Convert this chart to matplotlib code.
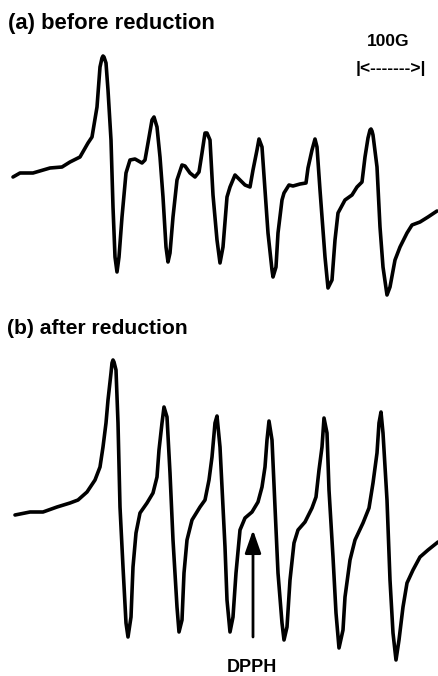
import matplotlib
matplotlib.use("Agg")
import matplotlib.pyplot as plt
import numpy as np

# ---- data (field in arbitrary units, derivative signal in arbitrary units) ----
field_a = [13, 20, 33, 50, 62, 70, 80, 88, 92, 97, 100, 102, 103, 104, 106, 108, 111, 113, 115, 117, 119, 122,
           126, 130, 135, 142, 145, 148, 152, 154, 157, 160, 163, 166, 168, 170, 173, 177, 182, 185, 190, 195,
           199, 202, 205, 207, 210, 213, 217, 220, 223, 227, 230, 235, 240, 245, 250, 253, 257, 259, 262, 265,
           268, 272, 273, 276, 278, 282, 284, 289, 293, 300, 306, 308, 312, 315, 317, 320, 325, 328, 332, 335,
           338, 345, 352, 357, 362, 365, 368, 370, 371, 372, 373, 377, 380, 383, 387, 390, 395, 400, 407, 412, 420, 428, 437]
signal_a = [0, 4, 4, 9, 10, 15, 20, 34, 40, 70, 110, 119, 121, 120, 114, 87, 37, -30, -80, -95, -80, -40,
            4, 17, 18, 14, 17, 34, 57, 60, 50, 20, -20, -70, -85, -76, -40, -3, 12, 11, 4, 0,
            5, 24, 44, 44, 37, -18, -63, -86, -70, -20, -10, 2, -3, -8, -10, 7, 27, 38, 30, -13,
            -56, -93, -100, -90, -56, -23, -16, -8, -9, -7, -6, 9, 27, 38, 30, -13, -80, -111, -103, -63,
            -36, -23, -18, -10, -5, 20, 39, 47, 48, 46, 42, 10, -50, -90, -118, -110, -83, -70, -56, -48, -45, -40, -34]

field_b = [15, 30, 43, 57, 70, 78, 87, 95, 100, 103, 106, 108, 111, 112, 113, 114, 116, 118, 120, 123, 126, 128,
           131, 133, 136, 140, 147, 153, 157, 159, 162, 164, 167, 170, 173, 177, 179, 182, 184, 187, 192, 200,
           205, 209, 212, 215, 217, 220, 223, 225, 227, 230, 233, 236, 240, 245, 252, 258, 262, 265, 267, 269,
           272, 275, 278, 282, 284, 287, 290, 294, 298, 305, 312, 316, 319, 322, 324, 327, 329, 333, 336, 339,
           343, 345, 350, 355, 363, 369, 373, 377, 379, 381, 383, 387, 390, 393, 396, 399, 403, 407, 413, 420, 428, 438]
signal_b = [0, 3, 3, 8, 12, 15, 23, 35, 48, 68, 92, 115, 142, 152, 155, 153, 145, 92, 8, -52, -108, -122,
            -102, -52, -18, 2, 12, 22, 38, 65, 92, 108, 98, 42, -25, -92, -117, -105, -58, -25, -5, 8,
            15, 35, 58, 92, 99, 68, 8, -32, -85, -117, -102, -58, -15, -3, 3, 13, 28, 48, 75, 94,
            75, 8, -58, -108, -125, -112, -65, -28, -15, -7, 7, 18, 45, 68, 97, 82, 25, -42, -98, -133,
            -115, -82, -45, -25, -8, 7, 32, 62, 92, 103, 82, 15, -65, -118, -145, -125, -92, -68, -55, -42, -35, -27]

title_a = "(a) before reduction"
title_b = "(b) after reduction"
scale_label = "100G"
scale_bar = "|<------->|"
marker_label = "DPPH"
dpph_field = 253

# ---- figure ----
W, H = 438, 676
fig = plt.figure(figsize=(W / 100, H / 100), dpi=100)
fig.patch.set_facecolor("white")
ax_a = fig.add_axes([0, 0.5, 1, 0.5])
ax_b = fig.add_axes([0, 0.0, 1, 0.5])
for ax in (ax_a, ax_b):
    ax.set_xlim(0, W)
    ax.set_ylim(-161, 177)
    ax.axis("off")

lw = 2.6
ax_a.plot(field_a, signal_a, color="black", lw=lw, solid_joinstyle="round", solid_capstyle="round")
ax_b.plot(field_b, signal_b, color="black", lw=lw, solid_joinstyle="round", solid_capstyle="round")

font = ["Liberation Sans", "DejaVu Sans"]
fig.text(8 / W, 1 - 23 / H, title_a, ha="left", va="center", fontsize=15.8,
         fontweight="bold", family=font)
fig.text(7 / W, 1 - 328 / H, title_b, ha="left", va="center", fontsize=15.2,
         fontweight="bold", family=font)
fig.text(388 / W, 1 - 42 / H, scale_label, ha="center", va="center", fontsize=12.5,
         fontweight="bold", family=font)
fig.text(391 / W, 1 - 68 / H, scale_bar, ha="center", va="center", fontsize=12.5,
         fontweight="bold", family=font)
fig.text(252 / W, 1 - 667 / H, marker_label, ha="center", va="center", fontsize=13,
         fontweight="bold", family=font)

ax_b.annotate("", xy=(dpph_field, -15), xytext=(dpph_field, -122),
              arrowprops=dict(arrowstyle="-|>,head_length=1.0,head_width=0.35",
                              mutation_scale=14, lw=2.0, color="black",
                              shrinkA=0, shrinkB=0))

fig.savefig("out.png", dpi=100, facecolor="white")
